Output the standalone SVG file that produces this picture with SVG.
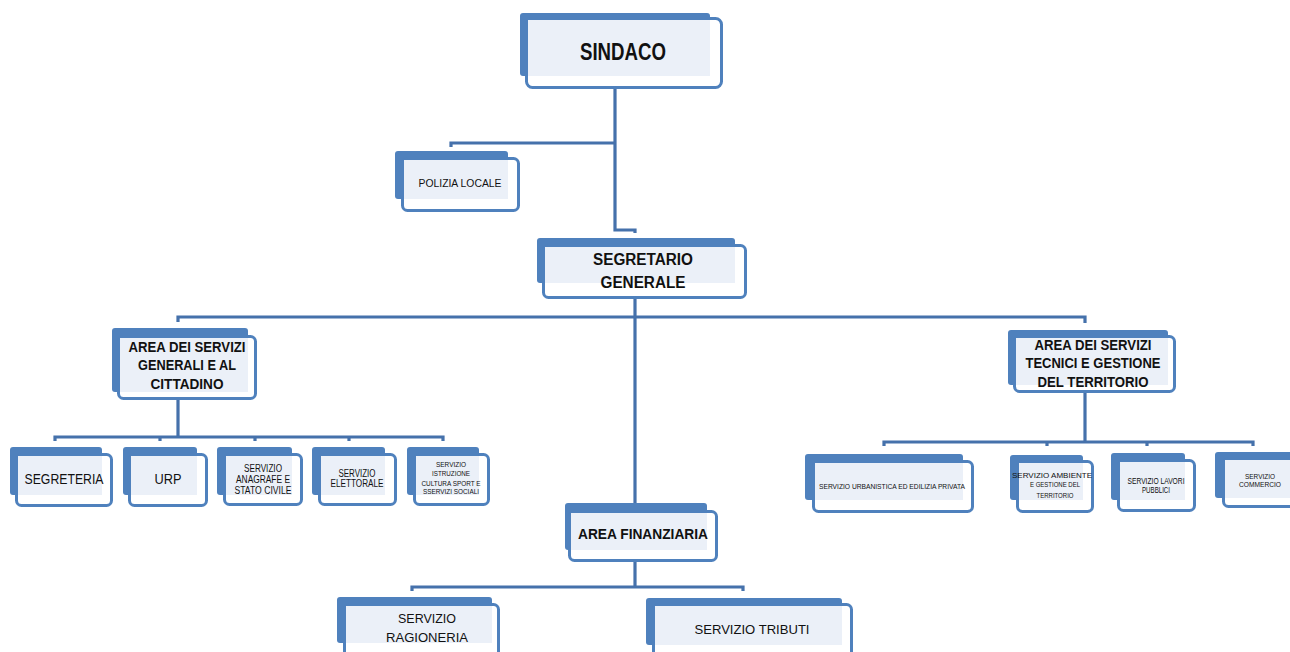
<svg xmlns="http://www.w3.org/2000/svg" width="1290" height="652" viewBox="0 0 1290 652">
<style>
.bg{fill:#ffffff}
.b{fill:#4F81BD}
.f{fill:#ffffff;stroke:#4F81BD;stroke-width:3}
.i{fill:#EBF0F8}
.t{font-family:"Liberation Sans",Arial,sans-serif;fill:#111111;text-anchor:middle}
.tb{font-weight:bold}
.c{stroke:#4571AB;stroke-width:3.2;fill:none}
</style>
<rect class="bg" x="0" y="0" width="1290" height="652"/>
<g id="connectors">
<path class="c" d="M615,89 V230 H635 V233"/>
<path class="c" d="M451,147 V143 H615"/>
<path class="c" d="M635,299 V503"/>
<path class="c" d="M178,322 V317 H1085 V323"/>
<path class="c" d="M178,400 V437"/>
<path class="c" d="M55,441 V437 H443 V441"/>
<path class="c" d="M160,437 V441 M255,437 V441 M349,437 V441"/>
<path class="c" d="M1085,393 V442"/>
<path class="c" d="M884,446 V442 H1253 V446"/>
<path class="c" d="M1047,442 V446 M1147,442 V446"/>
<path class="c" d="M635,562 V587"/>
<path class="c" d="M412,591 V587 H743 V591"/>
</g>
<g id="sindaco">
<rect class="b" x="520" y="13" width="190" height="63" rx="3"/>
<rect class="f" x="526.5" y="18.5" width="195" height="69" rx="6"/>
<rect class="i" x="528" y="20" width="182" height="56"/>
<text class="t tb" x="623" y="60" font-size="23" textLength="86" lengthAdjust="spacingAndGlyphs">SINDACO</text>
</g>
<g id="polizia">
<rect class="b" x="395" y="151" width="113" height="48" rx="3"/>
<rect class="f" x="402.5" y="158.5" width="116" height="52" rx="5"/>
<rect class="i" x="404" y="160" width="104" height="39"/>
<text class="t" x="460" y="187" font-size="10" textLength="83" lengthAdjust="spacingAndGlyphs">POLIZIA LOCALE</text>
</g>
<g id="segretario">
<rect class="b" x="537" y="238" width="198" height="45" rx="3"/>
<rect class="f" x="543.5" y="245.5" width="202" height="52" rx="5"/>
<rect class="i" x="545" y="247" width="190" height="36"/>
<text class="t tb" x="643" y="265" font-size="16" textLength="100" lengthAdjust="spacingAndGlyphs">SEGRETARIO</text>
<text class="t tb" x="643" y="288" font-size="16" textLength="85" lengthAdjust="spacingAndGlyphs">GENERALE</text>
</g>
<g id="area-generali">
<rect class="b" x="112" y="328" width="136" height="64" rx="3"/>
<rect class="f" x="118.5" y="336.5" width="137" height="62" rx="5"/>
<rect class="i" x="120" y="338" width="128" height="54"/>
<text class="t tb" x="187" y="352" font-size="14" textLength="117" lengthAdjust="spacingAndGlyphs">AREA DEI SERVIZI</text>
<text class="t tb" x="187" y="370" font-size="14" textLength="98" lengthAdjust="spacingAndGlyphs">GENERALI E AL</text>
<text class="t tb" x="187" y="389" font-size="14" textLength="73" lengthAdjust="spacingAndGlyphs">CITTADINO</text>
</g>
<g id="segreteria">
<rect class="b" x="10" y="447" width="92" height="48" rx="3"/>
<rect class="f" x="16.5" y="454.5" width="95" height="51" rx="5"/>
<rect class="i" x="18" y="456" width="84" height="39"/>
<text class="t" x="64" y="484" font-size="14" textLength="79" lengthAdjust="spacingAndGlyphs">SEGRETERIA</text>
</g>
<g id="urp">
<rect class="b" x="123" y="447" width="74" height="48" rx="3"/>
<rect class="f" x="129.5" y="454.5" width="77" height="51" rx="5"/>
<rect class="i" x="131" y="456" width="66" height="39"/>
<text class="t" x="168" y="484" font-size="14" textLength="27" lengthAdjust="spacingAndGlyphs">URP</text>
</g>
<g id="anagrafe">
<rect class="b" x="217" y="447" width="75" height="48" rx="3"/>
<rect class="f" x="224.5" y="454.5" width="77" height="50" rx="5"/>
<rect class="i" x="226" y="456" width="66" height="39"/>
<text class="t" x="263" y="472" font-size="10" textLength="38" lengthAdjust="spacingAndGlyphs">SERVIZIO</text>
<text class="t" x="263" y="483" font-size="10" textLength="54" lengthAdjust="spacingAndGlyphs">ANAGRAFE E</text>
<text class="t" x="263" y="494" font-size="10" textLength="57" lengthAdjust="spacingAndGlyphs">STATO CIVILE</text>
</g>
<g id="elettorale">
<rect class="b" x="312" y="447" width="73" height="48" rx="3"/>
<rect class="f" x="319.5" y="454.5" width="76" height="50" rx="5"/>
<rect class="i" x="321" y="456" width="64" height="39"/>
<text class="t" x="357" y="477" font-size="10" textLength="37" lengthAdjust="spacingAndGlyphs">SERVIZIO</text>
<text class="t" x="357" y="487" font-size="10" textLength="53" lengthAdjust="spacingAndGlyphs">ELETTORALE</text>
</g>
<g id="istruzione">
<rect class="b" x="407" y="447" width="72" height="48" rx="3"/>
<rect class="f" x="414.5" y="454.5" width="74" height="50" rx="5"/>
<rect class="i" x="416" y="456" width="63" height="39"/>
<text class="t" x="451" y="467" font-size="8" textLength="30" lengthAdjust="spacingAndGlyphs">SERVIZIO</text>
<text class="t" x="451" y="476" font-size="8" textLength="38" lengthAdjust="spacingAndGlyphs">ISTRUZIONE</text>
<text class="t" x="451" y="486" font-size="8" textLength="59" lengthAdjust="spacingAndGlyphs">CULTURA SPORT E</text>
<text class="t" x="451" y="494" font-size="8" textLength="56" lengthAdjust="spacingAndGlyphs">SSERVIZI SOCIALI</text>
</g>
<g id="area-tecnici">
<rect class="b" x="1008" y="330" width="160" height="55" rx="3"/>
<rect class="f" x="1014.5" y="336.5" width="160" height="55" rx="5"/>
<rect class="i" x="1016" y="338" width="152" height="47"/>
<text class="t tb" x="1093" y="350" font-size="14" textLength="117" lengthAdjust="spacingAndGlyphs">AREA DEI SERVIZI</text>
<text class="t tb" x="1093" y="368" font-size="14" textLength="135" lengthAdjust="spacingAndGlyphs">TECNICI E GESTIONE</text>
<text class="t tb" x="1093" y="387" font-size="14" textLength="111" lengthAdjust="spacingAndGlyphs">DEL TERRITORIO</text>
</g>
<g id="urbanistica">
<rect class="b" x="805" y="454" width="158" height="46" rx="3"/>
<rect class="f" x="813.5" y="461.5" width="159" height="50" rx="5"/>
<rect class="i" x="815" y="463" width="148" height="37"/>
<text class="t" x="892" y="489" font-size="8" textLength="146" lengthAdjust="spacingAndGlyphs">SERVIZIO URBANISTICA ED EDILIZIA PRIVATA</text>
</g>
<g id="ambiente">
<rect class="b" x="1010" y="455" width="73" height="45" rx="3"/>
<rect class="f" x="1017.5" y="461.5" width="75" height="50" rx="5"/>
<rect class="i" x="1019" y="463" width="64" height="37"/>
<text class="t" x="1052" y="478" font-size="8" textLength="80" lengthAdjust="spacingAndGlyphs">SERVIZIO AMBIENTE</text>
<text class="t" x="1055" y="487" font-size="8" textLength="50" lengthAdjust="spacingAndGlyphs">E GESTIONE DEL</text>
<text class="t" x="1055" y="498" font-size="8" textLength="37" lengthAdjust="spacingAndGlyphs">TERRITORIO</text>
</g>
<g id="lavori">
<rect class="b" x="1111" y="453" width="74" height="47" rx="3"/>
<rect class="f" x="1118.5" y="460.5" width="76" height="50" rx="5"/>
<rect class="i" x="1120" y="462" width="65" height="38"/>
<text class="t" x="1156" y="484" font-size="9" textLength="57" lengthAdjust="spacingAndGlyphs">SERVIZIO LAVORI</text>
<text class="t" x="1156" y="493" font-size="9" textLength="28" lengthAdjust="spacingAndGlyphs">PUBBLICI</text>
</g>
<g id="commercio">
<rect class="b" x="1215" y="452" width="80" height="46" rx="3"/>
<rect class="f" x="1223.5" y="458.5" width="75" height="48" rx="5"/>
<rect class="i" x="1225" y="460" width="70" height="38"/>
<text class="t" x="1260" y="479" font-size="7.5" textLength="30" lengthAdjust="spacingAndGlyphs">SERVIZIO</text>
<text class="t" x="1260" y="487" font-size="7.5" textLength="42" lengthAdjust="spacingAndGlyphs">COMMERCIO</text>
</g>
<g id="area-finanziaria">
<rect class="b" x="565" y="503" width="142" height="47" rx="3"/>
<rect class="f" x="569.5" y="511.5" width="147" height="49" rx="5"/>
<rect class="i" x="571" y="513" width="136" height="37"/>
<text class="t tb" x="643" y="539" font-size="15" textLength="130" lengthAdjust="spacingAndGlyphs">AREA FINANZIARIA</text>
</g>
<g id="ragioneria">
<rect class="b" x="337" y="597" width="155" height="46" rx="3"/>
<rect class="f" x="344.5" y="604.5" width="154" height="65" rx="5"/>
<rect class="i" x="346" y="606" width="146" height="37"/>
<text class="t" x="427" y="623" font-size="13" textLength="58" lengthAdjust="spacingAndGlyphs">SERVIZIO</text>
<text class="t" x="427" y="642" font-size="13" textLength="82" lengthAdjust="spacingAndGlyphs">RAGIONERIA</text>
</g>
<g id="tributi">
<rect class="b" x="646" y="598" width="196" height="47" rx="3"/>
<rect class="f" x="653.5" y="604.5" width="198" height="65" rx="5"/>
<rect class="i" x="655" y="606" width="187" height="39"/>
<text class="t" x="752" y="634" font-size="13" textLength="115" lengthAdjust="spacingAndGlyphs">SERVIZIO TRIBUTI</text>
</g>
</svg>
